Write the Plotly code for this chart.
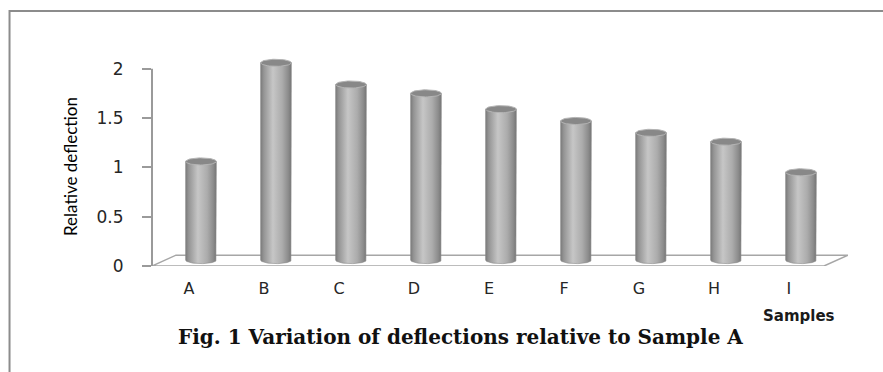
import numpy as np
import plotly.graph_objects as go

# Data
samples = ["A", "B", "C", "D", "E", "F", "G", "H", "I"]
rel_deflection = [1.0, 2.0, 1.78, 1.69, 1.53, 1.41, 1.29, 1.2, 0.89]
y_ticks = [0, 0.5, 1, 1.5, 2]
y_tick_text = ["0", "0.5", "1", "1.5", "2"]

# Pseudo-3D geometry (data units)
DEPTH_Y = 0.11        # floor depth, vertical component
DEPTH_X = 0.32        # floor depth, horizontal component
BAR_SHIFT = 0.16      # bars sit mid-depth, right of their labels
BAR_BASE = 0.06       # bars sit mid-depth, above the front edge
HALF_W = 0.205        # cylinder radius along x
RY = 0.036            # vertical radius of the elliptical caps
X_MIN, X_MAX = -0.493, 8.787
Y_MIN, Y_MAX = 0, 2.2

fig = go.Figure()

t = np.linspace(0, np.pi, 40)
caps = []
for i, v in enumerate(rel_deflection):
    cx = i + BAR_SHIFT
    top = v + BAR_BASE
    # body: left side up, across, right side down, lower half of base ellipse back
    xs = [cx - HALF_W, cx - HALF_W, cx + HALF_W, cx + HALF_W]
    ys = [BAR_BASE, top, top, BAR_BASE]
    xs += list(cx + HALF_W * np.cos(t))
    ys += list(BAR_BASE - RY * np.sin(t))
    fig.add_trace(go.Scatter(
        x=xs, y=ys, mode="lines", fill="toself",
        line=dict(color="#8a8a8a", width=0.6),
        fillgradient=dict(
            type="horizontal",
            colorscale=[[0, "#7a7a7a"], [0.1, "#949494"], [0.4, "#c6c6c6"],
                        [0.7, "#acacac"], [0.9, "#8c8c8c"], [1, "#747474"]],
        ),
        hoverinfo="skip", showlegend=False,
    ))
    ang = np.linspace(0, 2 * np.pi, 60)
    caps.append((cx + HALF_W * np.cos(ang), top + RY * np.sin(ang)))

for cxs, cys in caps:
    fig.add_trace(go.Scatter(
        x=cxs, y=cys, mode="lines", fill="toself",
        fillcolor="#888888", line=dict(color="#b4b4b4", width=1),
        hoverinfo="skip", showlegend=False,
    ))

shapes = [
    # floor
    dict(type="path", xref="x", yref="y",
         path=(f"M {X_MIN},0 L {X_MIN + DEPTH_X},{DEPTH_Y} "
               f"L {X_MAX},{DEPTH_Y} L {X_MAX - DEPTH_X},0 Z"),
         line=dict(color="#a6a6a6", width=1.5), fillcolor="white", layer="below"),
    # value axis line
    dict(type="line", xref="paper", yref="y", x0=0, x1=0, y0=0, y1=2,
         line=dict(color="#9a9a9a", width=2)),
    # frame around the figure
    dict(type="rect", xref="paper", yref="paper",
         x0=-0.2047, x1=1.08, y0=-0.55, y1=1.175,
         line=dict(color="#8c8c8c", width=2)),
]

annotations = [
    dict(text="Samples", xref="paper", yref="paper", x=(799 - 152) / 696,
         y=(266 - 316) / 217, showarrow=False, xanchor="center", yanchor="middle",
         font=dict(family="DejaVu Sans", size=15, color="#1a1a1a", weight="bold")),
    dict(text="Fig. 1 Variation of deflections relative to Sample A",
         xref="paper", yref="paper", x=(460 - 152) / 696, y=(266 - 337) / 217,
         showarrow=False, xanchor="center", yanchor="middle",
         font=dict(family="DejaVu Serif", size=20, color="#111111", weight="bold")),
    dict(text="Relative deflection", xref="paper", yref="paper",
         x=(70 - 152) / 696, y=(266 - 167) / 217, textangle=-90,
         showarrow=False, xanchor="center", yanchor="middle",
         font=dict(family="Lato", size=17, color="#000000")),
]

fig.update_layout(
    width=883, height=372,
    margin=dict(l=152, r=35, t=49, b=106),
    paper_bgcolor="white", plot_bgcolor="rgba(0,0,0,0)",
    shapes=shapes, annotations=annotations,
    xaxis=dict(
        range=[X_MIN, X_MAX], tickmode="array",
        tickvals=list(range(len(samples))), ticktext=samples,
        showgrid=False, zeroline=False, showline=False, ticks="",
        tickfont=dict(family="DejaVu Sans", size=16, color="#262626"),
        ticklabelstandoff=11,
    ),
    yaxis=dict(
        range=[Y_MIN, Y_MAX], tickmode="array",
        tickvals=y_ticks, ticktext=y_tick_text,
        showgrid=False, zeroline=False, showline=False,
        ticks="outside", ticklen=9, tickwidth=1.5, tickcolor="#9a9a9a",
        tickfont=dict(family="DejaVu Sans", size=17, color="#262626"),
        ticklabelstandoff=15,
    ),
)

fig.write_html("out.html")
